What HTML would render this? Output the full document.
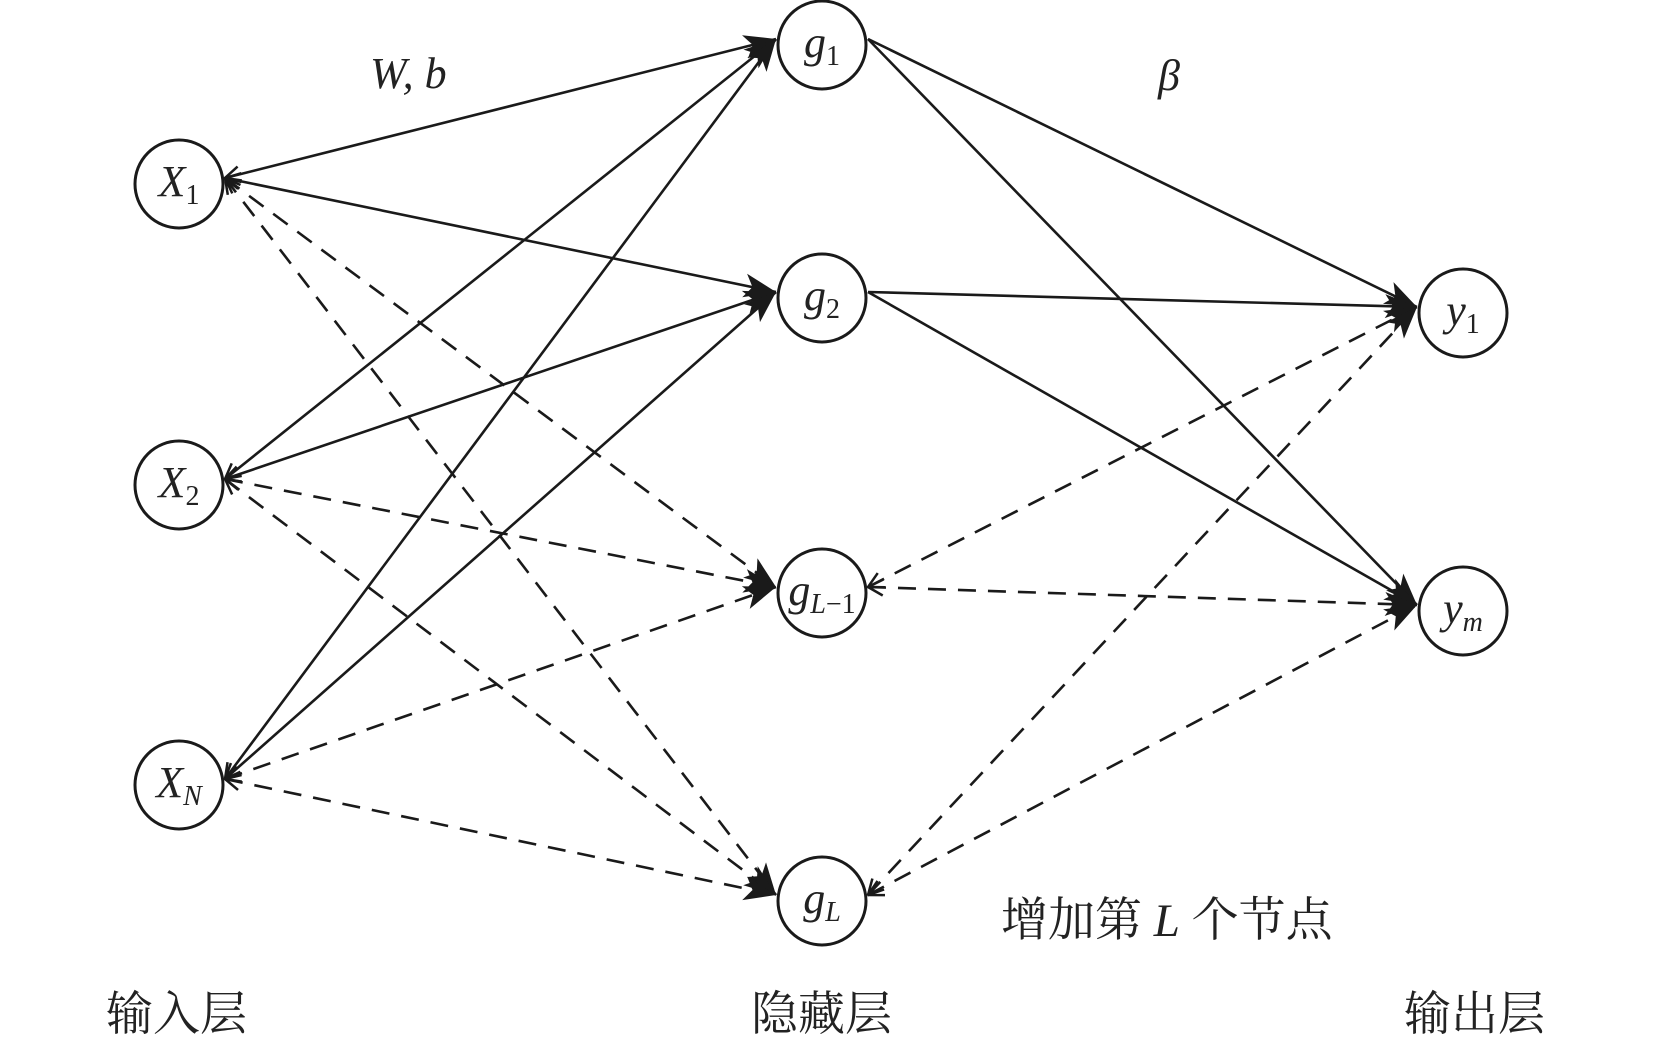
<!DOCTYPE html>
<html><head><meta charset="utf-8"><style>
html,body{margin:0;padding:0;background:#fff;}
svg{display:block;}
.t{font-family:"Liberation Serif","Noto Serif CJK SC",serif;font-style:italic;fill:#222;}
.c{font-family:"Liberation Serif","Noto Serif CJK SC",serif;fill:#222;font-size:47px;}
</style></head><body>
<svg id="s" width="1654" height="1045" viewBox="0 0 1654 1045" xmlns="http://www.w3.org/2000/svg">
<defs>
<marker id="af" markerUnits="userSpaceOnUse" markerWidth="34" markerHeight="26" refX="32" refY="13" orient="auto">
<path d="M0,1 L32,13 L0,25 L8,13 Z" fill="#1a1a1a"/></marker>
<marker id="ao" markerUnits="userSpaceOnUse" markerWidth="20" markerHeight="20" refX="1" refY="10" orient="auto">
<path d="M16,2 L1,10 L16,18" fill="none" stroke="#1a1a1a" stroke-width="2.5"/></marker>
</defs>
<g id="edges"></g>
<g id="nodes"></g>
<text class="t" x="370" y="88" font-size="44">W, b</text>
<text class="t" x="1158" y="90" font-size="44">β</text>
<text class="c" x="1001" y="936">增加第 <tspan font-style="italic">L</tspan> 个节点</text>
<text class="c" x="106" y="1030">输入层</text>
<text class="c" x="751" y="1030">隐藏层</text>
<text class="c" x="1404" y="1030">输出层</text>
</svg>
<script>
var N={X1:[179,184],X2:[179,485],XN:[179,785],g1:[822,45],g2:[822,298],gL1:[822,593],gL:[822,901],y1:[1463,313],ym:[1463,611]};
var R=44,ns="http://www.w3.org/2000/svg";
var E=[
['X1','g1',0],['X1','g2',0],['X2','g1',0],['X2','g2',0],['XN','g1',0],['XN','g2',0],
['X1','gL1',1],['X1','gL',1],['X2','gL1',1],['X2','gL',1],['XN','gL1',1],['XN','gL',1],
['g1','y1',0],['g1','ym',0],['g2','y1',0],['g2','ym',0],
['gL1','y1',1],['gL1','ym',1],['gL','y1',1],['gL','ym',1]];
var eg=document.getElementById('edges');
E.forEach(function(e){
 var a=N[e[0]],b=N[e[1]];
 var x1=a[0]+R+2,y1=a[1]-6,x2=b[0]-R-2,y2=b[1]-6;
 var l=document.createElementNS(ns,'line');
 l.setAttribute('x1',x1);l.setAttribute('y1',y1);
 l.setAttribute('x2',x2);l.setAttribute('y2',y2);
 l.setAttribute('stroke','#1a1a1a');l.setAttribute('stroke-width','2.6');
 if(e[2])l.setAttribute('stroke-dasharray','18 12');
 l.setAttribute('marker-end','url(#af)');
 if(e[0][0]=='X'||e[0]=='gL1'||e[0]=='gL')l.setAttribute('marker-start','url(#ao)');
 eg.appendChild(l);
});
var ng=document.getElementById('nodes');
var lab={X1:['X','1'],X2:['X','2'],XN:['X','N'],g1:['g','1'],g2:['g','2'],gL1:['g','L','−1'],gL:['g','L'],y1:['y','1'],ym:['y','m']};
for(var k in N){
 var c=document.createElementNS(ns,'circle');
 c.setAttribute('cx',N[k][0]);c.setAttribute('cy',N[k][1]);c.setAttribute('r',R);
 c.setAttribute('fill','#fff');c.setAttribute('stroke','#1a1a1a');c.setAttribute('stroke-width','3');
 ng.appendChild(c);
 var t=document.createElementNS(ns,'text');
 t.setAttribute('class','t');t.setAttribute('font-size','44');
 t.setAttribute('text-anchor','middle');t.setAttribute('x',N[k][0]);t.setAttribute('y',N[k][1]+12);
 var s1=document.createElementNS(ns,'tspan');s1.textContent=lab[k][0];
 var s2=document.createElementNS(ns,'tspan');s2.textContent=lab[k][1];
 s2.setAttribute('font-size','28');s2.setAttribute('dy','8');
 if(/^[0-9]$/.test(lab[k][1]))s2.setAttribute('font-style','normal');
 t.appendChild(s1);t.appendChild(s2);
 if(lab[k][2]){var s3=document.createElementNS(ns,'tspan');s3.textContent=lab[k][2];s3.setAttribute('font-size','28');s3.setAttribute('font-style','normal');t.appendChild(s3);}
 ng.appendChild(t);
}
</script>
</body></html>
